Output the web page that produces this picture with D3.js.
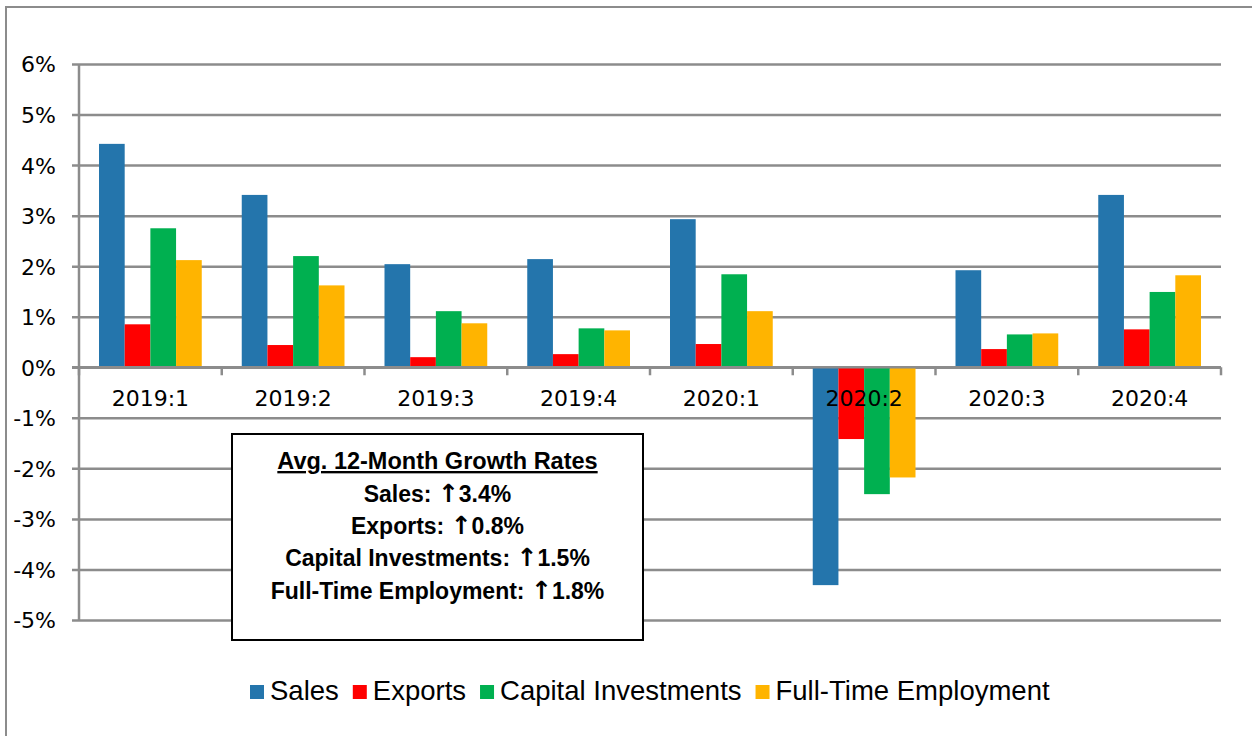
<!DOCTYPE html>
<html>
<head>
<meta charset="utf-8">
<script src="https://cdn.jsdelivr.net/npm/d3@7"></script>
<style>
  body { margin: 0; background: #fff; }
  svg { display: block; }
</style>
</head>
<body>
<div id="chart-area"></div>
<script>
// quarters and the four series (12-month growth, %)
var quarters = ["2019:1", "2019:2", "2019:3", "2019:4", "2020:1", "2020:2", "2020:3", "2020:4"];
var seriesNames = ["Sales", "Exports", "Capital Investments", "Full-Time Employment"];
var sales = [4.42, 3.41, 2.04, 2.14, 2.93, -4.31, 1.92, 3.41];
var exportsVals = [0.85, 0.44, 0.20, 0.26, 0.46, -1.42, 0.36, 0.75];
var capital = [2.75, 2.20, 1.11, 0.77, 1.84, -2.51, 0.65, 1.49];
var employment = [2.12, 1.62, 0.87, 0.73, 1.11, -2.18, 0.67, 1.82];
var yTicks = [-5, -4, -3, -2, -1, 0, 1, 2, 3, 4, 5, 6];
var boxLabels = ["Sales: ", "Exports: ", "Capital Investments: ", "Full-Time Employment: "];
var boxValues = ["3.4%", "0.8%", "1.5%", "1.8%"];

var colors = ["#2475AC", "#FF0000", "#00B050", "#FFB400"];
var allSeries = [sales, exportsVals, capital, employment];

var width = 1252, height = 736;
var svg = d3.select("#chart-area").append("svg")
    .attr("width", width)
    .attr("height", height);

// outer frame (top and left edges visible)
svg.append("path")
    .attr("d", "M6,736 L6,7 L1252,7")
    .attr("fill", "none")
    .attr("stroke", "#8c8c8c")
    .attr("stroke-width", 2);

var plot = {left: 79, right: 1221, top: 64, bottom: 620};

var x = d3.scaleBand()
    .domain(quarters)
    .range([plot.left, plot.right])
    .padding(0);

var x1 = d3.scaleBand()
    .domain(seriesNames)
    .range([20, x.bandwidth() - 20])
    .padding(0);

var y = d3.scaleLinear()
    .domain([-5, 6])
    .range([plot.bottom, plot.top]);

// gridlines + y labels
var yAxis = d3.axisLeft(y)
    .tickValues(yTicks)
    .tickSize(-(plot.right - plot.left) - 7)
    .tickFormat(function(d) { return d + "%"; });

var yg = svg.append("g")
    .attr("transform", "translate(" + plot.right + ",0)")
    .call(yAxis);
yg.select(".domain").remove();
yg.selectAll(".tick line")
    .attr("x1", 0)
    .attr("x2", plot.left - plot.right - 7)
    .attr("stroke", "#8c8c8c")
    .attr("stroke-width", 2.5);
yg.selectAll(".tick text")
    .attr("x", plot.left - plot.right - 23)
    .attr("dy", "0.36em")
    .attr("font-family", "'DejaVu Sans', sans-serif")
    .attr("font-size", "22px")
    .attr("fill", "#000");

// vertical axis line
svg.append("line")
    .attr("x1", plot.left).attr("x2", plot.left)
    .attr("y1", plot.top).attr("y2", plot.bottom)
    .attr("stroke", "#8c8c8c")
    .attr("stroke-width", 2.5);

// bars
var groups = svg.append("g").selectAll("g")
    .data(quarters)
    .enter().append("g")
    .attr("transform", function(d) { return "translate(" + x(d) + ",0)"; });

groups.selectAll("rect")
    .data(function(d, i) {
        return seriesNames.map(function(s, j) { return {name: s, value: allSeries[j][i], idx: j}; });
    })
    .enter().append("rect")
    .attr("x", function(d) { return x1(d.name); })
    .attr("y", function(d) { return y(Math.max(0, d.value)); })
    .attr("width", x1.bandwidth())
    .attr("height", function(d) { return Math.abs(y(d.value) - y(0)); })
    .attr("fill", function(d) { return colors[d.idx]; });

// zero axis line with category ticks
var zero = y(0);
svg.append("line")
    .attr("x1", plot.left - 7).attr("x2", plot.right)
    .attr("y1", zero).attr("y2", zero)
    .attr("stroke", "#8c8c8c")
    .attr("stroke-width", 2.5);

var bounds = quarters.map(function(q) { return x(q); }).concat([plot.right]);
svg.append("g").selectAll("line")
    .data(bounds)
    .enter().append("line")
    .attr("x1", function(d) { return d; }).attr("x2", function(d) { return d; })
    .attr("y1", zero).attr("y2", zero + 8)
    .attr("stroke", "#8c8c8c")
    .attr("stroke-width", 2.5);

svg.append("g").selectAll("text")
    .data(quarters)
    .enter().append("text")
    .attr("x", function(d) { return x(d) + x.bandwidth() / 2; })
    .attr("y", zero + 39)
    .attr("text-anchor", "middle")
    .attr("font-family", "'DejaVu Sans', sans-serif")
    .attr("font-size", "22px")
    .attr("fill", "#000")
    .text(function(d) { return d; });

// annotation box
var box = svg.append("g");
box.append("rect")
    .attr("x", 232).attr("y", 434)
    .attr("width", 411).attr("height", 206)
    .attr("fill", "#fff")
    .attr("stroke", "#000")
    .attr("stroke-width", 2);

var cx = 437.5;
var boxFont = "'Liberation Sans', Arial, sans-serif";
box.append("text")
    .attr("x", cx).attr("y", 469)
    .attr("text-anchor", "middle")
    .attr("font-family", boxFont)
    .attr("font-weight", "bold")
    .attr("font-size", "23.5px")
    .attr("text-decoration", "underline")
    .text("Avg. 12-Month Growth Rates");

var rows = box.selectAll("text.line")
    .data(boxLabels)
    .enter().append("text")
    .attr("class", "line")
    .attr("x", cx)
    .attr("y", function(d, i) { return 502 + i * 32.2; })
    .attr("text-anchor", "middle")
    .attr("font-family", boxFont)
    .attr("font-weight", "bold")
    .attr("font-size", "23px");
rows.append("tspan").text(function(d) { return d; });
rows.append("tspan")
    .attr("font-family", "'DejaVu Sans', sans-serif")
    .attr("font-size", "25px")
    .text("\u2191");
rows.append("tspan").text(function(d, i) { return boxValues[i]; });

// legend
var legend = svg.append("g");
var lx = 250;
seriesNames.forEach(function(name, i) {
    var item = legend.append("g").attr("transform", "translate(" + lx + ",685)");
    item.append("rect")
        .attr("width", 14).attr("height", 14)
        .attr("fill", colors[i]);
    var t = item.append("text")
        .attr("x", 20).attr("y", 15)
        .attr("font-family", "'Liberation Sans', Arial, sans-serif")
        .attr("font-size", "27.5px")
        .attr("fill", "#000")
        .text(name);
    lx += 20 + t.node().getComputedTextLength() + 14;
});
</script>
</body>
</html>
